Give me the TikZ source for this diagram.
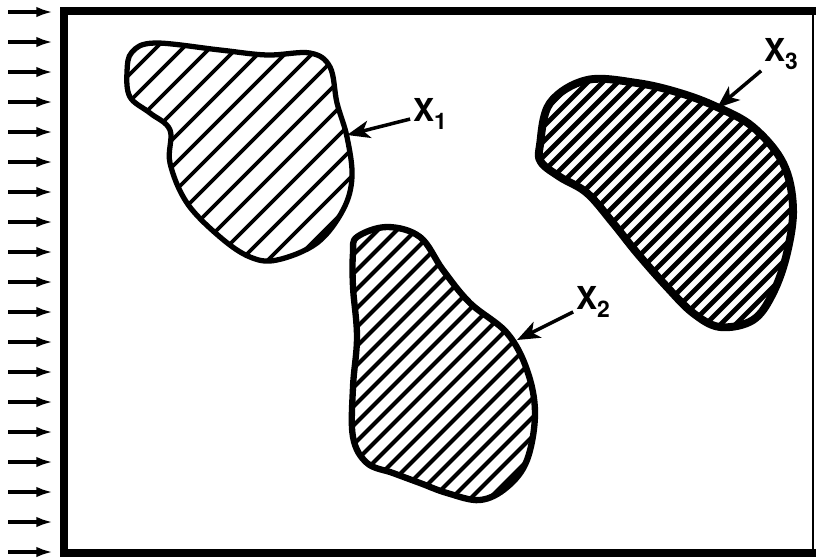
\documentclass[tikz,border=0pt]{standalone}
\usepackage{fontspec}
\setmainfont{TeX Gyre Heros}
\usetikzlibrary{arrows.meta}

\newcommand{\xlab}[1]{X\raisebox{-4.5pt}{\fontsize{13}{15}\selectfont #1}}

\begin{document}
\begin{tikzpicture}[
    x=0.02cm, y=-0.02cm,
    frame/.style={line width=4.5pt, line join=miter},
    flow/.style={line width=2pt, -{Latex[length=9.5pt, width=6pt]}},
    blob/.style={line width=#1, line join=round},
    hatch/.style={line width=#1},
    pointer/.style={line width=2pt, -{Stealth[length=13pt, width=10pt, inset=3.5pt]}},
    tag/.style={font=\fontsize{18}{20}\selectfont\bfseries, inner sep=1.5pt}
  ]
    \useasboundingbox (0,0) rectangle (816,559);

    % Frame
    \draw[frame] (816,11) -- (64,11) -- (64,553) -- (816,553);
    \draw[line width=0.8pt] (813,11) -- (813,553);

    % Incoming arrows
    \foreach \i in {0,...,18}
      \draw[flow] (8,12+30*\i) -- (53,12+30*\i);

    % Region X1
    \def\blobA{plot[smooth cycle, tension=0.6] coordinates {(132,52) (155,43) (220,50) (267,55) (310,53) (330,67) (337,103) (347,137) (352,177) (343,210) (317,243) (277,260) (250,257) (220,237) (187,203) (170,163) (170,130) (150,113) (130,97) (127,72)}}
    \begin{scope}
      \clip \blobA;
      \foreach \c in {150,177,...,640}
        \draw[hatch=2.1pt] (\c,0) -- (\c-700,700);
    \end{scope}
    \draw[blob=3pt] \blobA;

    % Region X2
    \def\blobB{plot[smooth cycle, tension=0.6] coordinates {(357,237) (387,227) (420,237) (443,270) (470,303) (507,333) (527,370) (535,413) (527,460) (507,487) (480,500) (447,493) (420,483) (393,473) (367,463) (353,437) (353,387) (357,337) (353,287) (353,253)}}
    \begin{scope}
      \clip \blobB;
      \foreach \c in {570,589,...,1040}
        \draw[hatch=2.4pt] (\c,0) -- (\c-700,700);
    \end{scope}
    \draw[blob=3.6pt] \blobB;

    % Region X3
    \def\blobC{plot[smooth cycle, tension=0.6] coordinates {(540,145) (550,103) (587,80) (637,83) (680,93) (717,107) (753,127) (783,163) (793,207) (787,253) (773,293) (753,320) (720,327) (693,313) (667,287) (637,253) (613,223) (587,193) (560,177) (541,162)}}
    \begin{scope}
      \clip \blobC;
      \foreach \c in {610,625,...,1130}
        \draw[hatch=2.8pt] (\c,0) -- (\c-700,700);
    \end{scope}
    \draw[blob=4.5pt] \blobC;

    % Labels
    \coordinate (tip1) at (347,135);
    \coordinate (tip2) at (517,340);
    \coordinate (tip3) at (717,108);
    \node[tag] (lab1) at (430,114) {\xlab{1}};
    \node[tag] (lab2) at (593,302) {\xlab{2}};
    \node[tag] (lab3) at (781,54) {\xlab{3}};
    \draw[pointer] (lab1) -- (tip1);
    \draw[pointer] (lab2) -- (tip2);
    \draw[pointer] (lab3) -- (tip3);
  \end{tikzpicture}
\end{document}
